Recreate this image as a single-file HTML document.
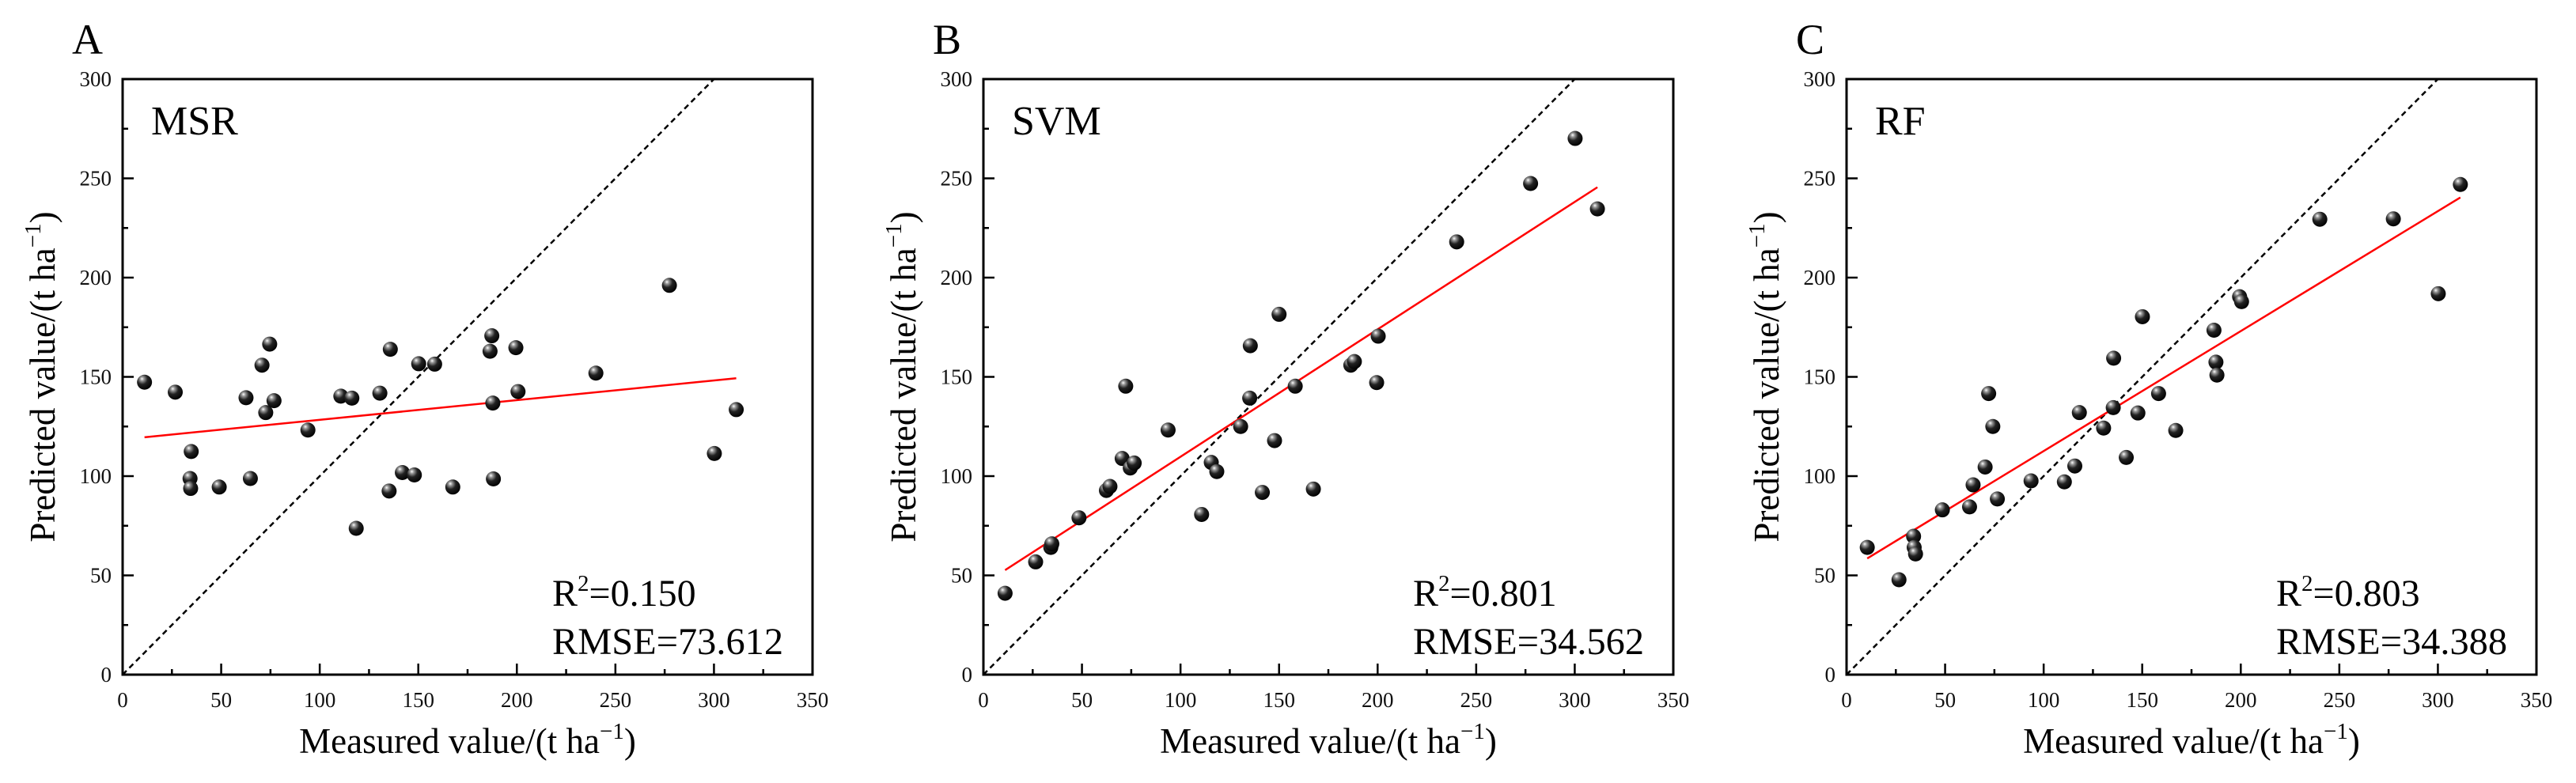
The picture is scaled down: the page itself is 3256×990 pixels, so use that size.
<!DOCTYPE html>
<html><head><meta charset="utf-8"><style>
html,body{margin:0;padding:0;background:#fff;}
svg{display:block;font-family:"Liberation Serif","Noto Serif CJK SC",serif;}
</style></head><body>
<svg id="fig" width="3256" height="990" viewBox="0 0 3256 990" xmlns="http://www.w3.org/2000/svg">
<defs>
<radialGradient id="ball" cx="0.38" cy="0.32" r="0.7" fx="0.33" fy="0.27">
<stop offset="0" stop-color="#ffffff"/><stop offset="0.18" stop-color="#9a9a9a"/><stop offset="0.5" stop-color="#222"/><stop offset="1" stop-color="#000"/>
</radialGradient>
</defs>
</svg>
<script>
const xTicks = [0,50,100,150,200,250,300,350];
const yTicks = [0,50,100,150,200,250,300];
const panelLetters = ["A","B","C"];
const modelNames = ["MSR","SVM","RF"];
const r2Labels = ["0.150","0.801","0.803"];
const rmseLabels = ["73.612","34.562","34.388"];
const msrX = [11.1,26.7,34.8,34.2,34.5,49.0,62.6,64.8,70.7,72.6,74.6,76.8,94.0,110.7,116.3,118.5,130.5,135.2,135.8,141.9,148.0,150.2,158.3,167.5,186.4,187.3,187.8,188.1,199.5,200.6,240.1,277.4,300.2,311.3];
const msrY = [147.3,142.3,112.4,98.8,93.8,94.5,139.5,98.8,155.9,132.0,166.5,138.0,123.2,140.3,139.3,73.7,141.8,92.5,163.9,101.8,100.6,156.6,156.4,94.5,162.9,170.7,136.8,98.6,164.7,142.6,151.9,196.1,111.4,133.5];
const svmX = [11.0,26.5,34.2,34.7,48.5,62.4,64.2,70.4,72.2,74.5,76.5,93.7,110.7,115.6,118.4,130.5,135.4,135.1,141.5,147.7,150.0,158.2,167.4,186.4,188.2,199.5,200.3,240.1,277.6,300.2,311.5];
const svmY = [41.0,56.8,64.1,65.9,79.0,92.8,94.8,108.9,145.3,104.1,106.6,123.2,80.7,106.9,102.3,125.0,165.7,139.3,91.8,117.9,181.5,145.3,93.5,155.9,157.7,147.1,170.5,218.0,247.4,270.1,234.6];
const rfX = [10.5,26.6,34.0,34.3,35.0,48.6,62.4,64.2,70.3,72.1,74.2,76.5,93.6,110.5,115.8,118.1,130.4,135.3,135.5,141.9,147.8,150.1,158.3,167.0,186.4,187.4,187.9,199.4,200.4,240.1,277.4,300.2,311.4];
const rfY = [64.1,47.8,69.7,64.1,60.8,83.0,84.5,95.6,104.6,141.6,125.0,88.5,97.6,97.1,105.1,132.0,124.2,134.5,159.4,109.4,131.8,180.3,141.6,123.0,173.5,157.4,150.9,190.4,187.9,229.4,229.6,191.9,246.9];

const NS="http://www.w3.org/2000/svg";
const svg=document.getElementById('fig');
const panelLeft=[155,1243,2334];
const W=872, TOP=100, BOT=853;
function mk(tag,attrs,parent){const e=document.createElementNS(NS,tag);for(const k in attrs)e.setAttribute(k,attrs[k]);(parent||svg).appendChild(e);return e;}
function fit(xs,ys){const n=xs.length;let mx=0,my=0;for(let i=0;i<n;i++){mx+=xs[i];my+=ys[i];}mx/=n;my/=n;let sxy=0,sxx=0;for(let i=0;i<n;i++){sxy+=(xs[i]-mx)*(ys[i]-my);sxx+=(xs[i]-mx)**2;}const b=sxy/sxx;return [my-b*mx,b];}
const datasets=[[msrX,msrY],[svmX,svmY],[rfX,rfY]];
for(let p=0;p<3;p++){
  const L=panelLeft[p];
  const sx=v=>L+v/350*W;
  const sy=v=>BOT-v/300*(BOT-TOP);
  const g=mk('g',{});
  
  
  const clipId='clip'+p;
  const cp=mk('clipPath',{id:clipId},g);mk('rect',{x:L,y:TOP,width:W,height:BOT-TOP},cp);
  for(let v=0;v<=350;v+=25){const x=sx(v);const len=(v%50===0)?14:7;const t=mk('line',{x1:x,y1:BOT,x2:x,y2:BOT-len,stroke:'#000','stroke-width':2.5},g);
    
    }
  for(let v=0;v<=300;v+=25){const y=sy(v);const len=(v%50===0)?14:7;const t=mk('line',{x1:L,y1:y,x2:L+len,y2:y,stroke:'#000','stroke-width':2.5},g);
    
    }
  xTicks.forEach(v=>{const t=mk('text',{x:sx(v),y:894,'font-size':27,'text-anchor':'middle',fill:'#111'},g);t.textContent=v;
    
    });
  yTicks.forEach(v=>{const t=mk('text',{x:L-14,y:sy(v)+9,'font-size':27,'text-anchor':'end',fill:'#111'},g);t.textContent=v;
    
    });
  const d=mk('line',{x1:sx(0),y1:sy(0),x2:sx(350),y2:sy(350),stroke:'#000','stroke-width':2.5,'stroke-dasharray':'7,5','clip-path':'url(#'+clipId+')'},g);
  
  
  const [xs,ys]=datasets[p];
  const [a,b]=fit(xs,ys);
  const xmin=Math.min(...xs),xmax=Math.max(...xs);
  const r=mk('line',{x1:sx(xmin),y1:sy(a+b*xmin),x2:sx(xmax),y2:sy(a+b*xmax),stroke:'#ff0000','stroke-width':2.5},g);
  
  
  for(let i=0;i<xs.length;i++){const c=mk('circle',{cx:sx(xs[i]),cy:sy(ys[i]),r:9.5,fill:'url(#ball)'},g);
    
    }
  const f=mk('rect',{x:L,y:TOP,width:W,height:BOT-TOP,fill:'none',stroke:'#000','stroke-width':3},g);
  
  
  const pl=mk('text',{x:L-64,y:68,'font-size':54,fill:'#000'},g);pl.textContent=panelLetters[p];
  
  
  const mn=mk('text',{x:L+36,y:170,'font-size':52,fill:'#000'},g);mn.textContent=modelNames[p];
  
  
  const r2=mk('text',{x:L+543,y:766,'font-size':48,fill:'#000'},g);
  r2.innerHTML='R<tspan font-size="29" dy="-19">2</tspan><tspan dy="19">='+r2Labels[p]+'</tspan>';
  
  
  const rm=mk('text',{x:L+543,y:827,'font-size':48,fill:'#000',textLength:292,lengthAdjust:'spacingAndGlyphs'},g);rm.textContent='RMSE='+rmseLabels[p];
  
  
  const xt=mk('text',{x:L+W/2,y:952,'font-size':45,'text-anchor':'middle',fill:'#000'},g);
  xt.innerHTML='Measured value/(t ha<tspan font-size="29" dy="-18">−1</tspan><tspan dy="18">)</tspan>';
  
  
  const yt=mk('text',{x:0,y:0,'font-size':45,'text-anchor':'middle',fill:'#000',transform:'translate('+(L-86)+','+((TOP+BOT)/2)+') rotate(-90)'},g);
  yt.innerHTML='Predicted value/(t ha<tspan font-size="29" dy="-18">−1</tspan><tspan dy="18">)</tspan>';
  
  
}
</script>
</body></html>
